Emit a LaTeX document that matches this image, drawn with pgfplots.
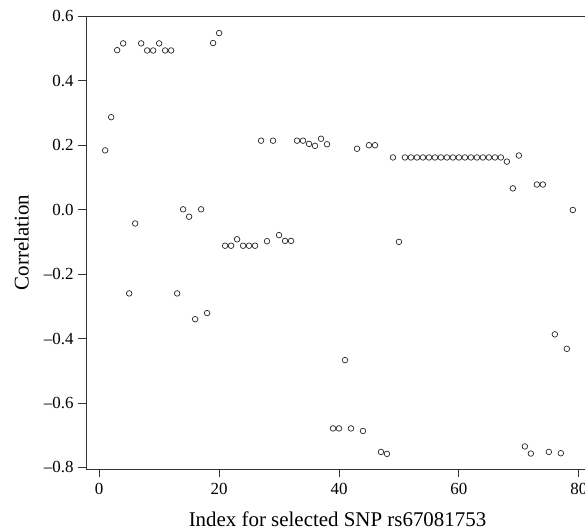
\documentclass[border=0pt]{standalone}
\usepackage{fontspec}
\setmainfont{Liberation Serif}
\usepackage{pgfplots}
\pgfplotsset{compat=1.18}
\begin{document}
\begin{tikzpicture}
\begin{axis}[
  scale only axis,
  width=506bp, height=453bp,
  xmin=-2.2, xmax=82.2,
  ymin=-0.805, ymax=0.601,
  axis line style={black!80, line width=0.9bp},
  tick style={black!80, line width=0.9bp},
  tick align=outside,
  major tick length=8bp,
  xtick={0,20,40,60,80},
  ytick={-0.8,-0.6,-0.4,-0.2,0,0.2,0.4,0.6},
  yticklabels={–0.8,–0.6,–0.4,–0.2,0.0,0.2,0.4,0.6},
  xtick pos=bottom, ytick pos=left,
  /pgf/number format/assume math mode=true,
  ticklabel style={font=\fontsize{17}{20}\selectfont, black},
  xticklabel style={yshift=-3bp},
  yticklabel style={xshift=-1bp},
  clip=false,
]
\addplot[only marks, mark=o, mark size=2.8bp, mark options={line width=0.7bp, black!85}] coordinates {
(1,0.184) (2,0.287) (3,0.495) (4,0.516) (5,-0.26) (6,-0.043) (7,0.516) (8,0.494) (9,0.494) (10,0.516)
(11,0.494) (12,0.494) (13,-0.26) (14,0.001) (15,-0.022) (16,-0.34) (17,0.001) (18,-0.321) (19,0.517) (20,0.548)
(21,-0.112) (22,-0.112) (23,-0.092) (24,-0.112) (25,-0.112) (26,-0.112) (27,0.214) (28,-0.098) (29,0.214) (30,-0.079)
(31,-0.097) (32,-0.097) (33,0.214) (34,0.214) (35,0.204) (36,0.198) (37,0.22) (38,0.203) (39,-0.679) (40,-0.679)
(41,-0.467) (42,-0.679) (43,0.189) (44,-0.687) (45,0.2) (46,0.2) (47,-0.752) (48,-0.758) (49,0.162) (50,-0.1)
(51,0.162) (52,0.162) (53,0.162) (54,0.162) (55,0.162) (56,0.162) (57,0.162) (58,0.162) (59,0.162) (60,0.162)
(61,0.162) (62,0.162) (63,0.162) (64,0.162) (65,0.162) (66,0.162) (67,0.162) (68,0.149) (69,0.066) (70,0.168)
(71,-0.735) (72,-0.757) (73,0.078) (74,0.078) (75,-0.752) (76,-0.387) (77,-0.756) (78,-0.432) (79,-0.001)
};
\end{axis}
\node[font=\fontsize{21}{24}\selectfont, anchor=center] at (251.5bp,-50bp) {Index for selected SNP rs67081753};
\node[font=\fontsize{21}{24}\selectfont, anchor=center, rotate=90] at (-64.5bp,226.5bp) {Correlation};
\pgfresetboundingbox
\useasboundingbox (-86bp,-60bp) rectangle (499bp,469bp);
\end{tikzpicture}
\end{document}
